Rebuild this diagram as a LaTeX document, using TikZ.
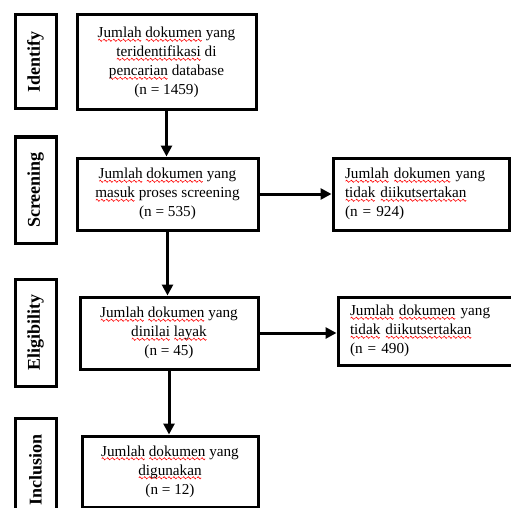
\documentclass[tikz,border=0pt]{standalone}
\usepackage{fontspec}
\setmainfont{Liberation Serif}
\usetikzlibrary{arrows.meta}
\newsavebox\wavebox
\newcommand\wavy[1]{\leavevmode\setbox0\hbox{#1}\rlap{\raisebox{-4pt}{\hbox to \wd0{\xleaders\copy\wavebox\hfil}}}\box0\relax}

\begin{document}
\sbox\wavebox{\begin{pgfpicture}\pgfsetlinewidth{0.6pt}\pgfsetstrokecolor{red}%
  \pgfpathmoveto{\pgfpoint{0pt}{0pt}}%
  \pgfpathsine{\pgfpoint{1pt}{1.1pt}}\pgfpathcosine{\pgfpoint{1pt}{-1.1pt}}%
  \pgfpathsine{\pgfpoint{1pt}{-1.1pt}}\pgfpathcosine{\pgfpoint{1pt}{1.1pt}}%
  \pgfusepath{stroke}\end{pgfpicture}}%
\begin{tikzpicture}[x=1pt,y=-1pt,line width=3pt,
                phase/.style={draw,rotate=90,inner sep=0pt,minimum height=41pt,
                  font=\fontsize{18}{22}\selectfont\bfseries},
                box/.style={draw,align=center,minimum width=179pt,minimum height=72pt,
                  font=\fontsize{15.2}{19}\selectfont},
                sidebox/.style={draw,align=left,text width=152pt,inner xsep=12pt,
                  minimum height=72pt,font=\fontsize{15.2}{19}\selectfont},
                arr/.style={-{Triangle[length=11pt,width=11pt]}}]
\clip (0,0) rectangle (511,508);
% stages
\node[phase,minimum width=94pt] (identify) at (35.5,62) {Identify};
\node[phase,minimum width=106pt] (screening) at (35.5,190) {Screening};
\node[phase,minimum width=107pt] (eligibility) at (35.5,332.5) {Eligibility};
\node[phase,minimum width=104pt] (inclusion) at (35.5,470) {Inclusion};
% main column
\node[box,minimum height=95pt] (found) at (166.5,62.5)
  {\wavy{Jumlah} \wavy{dokumen} yang\\ \wavy{teridentifikasi} di\\ \wavy{pencarian} database\\ (n = 1459)};
\node[box,minimum width=181pt] (screened) at (167.5,194)
  {\wavy{Jumlah} \wavy{dokumen} yang\\ \wavy{masuk} proses screening\\ (n = 535)};
\node[box,minimum width=178pt] (eligible) at (169,333)
  {\wavy{Jumlah} \wavy{dokumen} yang\\ \wavy{dinilai} \wavy{layak}\\ (n = 45)};
\node[box,minimum width=176pt,minimum height=71pt] (included) at (170,471.5)
  {\wavy{Jumlah} \wavy{dokumen} yang\\ \wavy{digunakan}\\ (n = 12)};
% excluded
\node[sidebox] (excl1) at (421,194)
  {\wavy{Jumlah} \wavy{dokumen} yang\\ \wavy{tidak} \wavy{diikutsertakan}\\ (n = 924)};
\node[sidebox,minimum height=68pt] (excl2) at (426,331)
  {\wavy{Jumlah} \wavy{dokumen} yang\\ \wavy{tidak} \wavy{diikutsertakan}\\ (n = 490)};
% arrows
\draw[arr] (found.south) -- (found.south |- screened.north);
\draw[arr] (screened.south) -- (screened.south |- eligible.north);
\draw[arr] (eligible.south) -- (eligible.south |- included.north);
\draw[arr] (screened.east) -- (excl1.west);
\draw[arr] (eligible.east) -- (eligible.east -| excl2.west);
\end{tikzpicture}
\end{document}
